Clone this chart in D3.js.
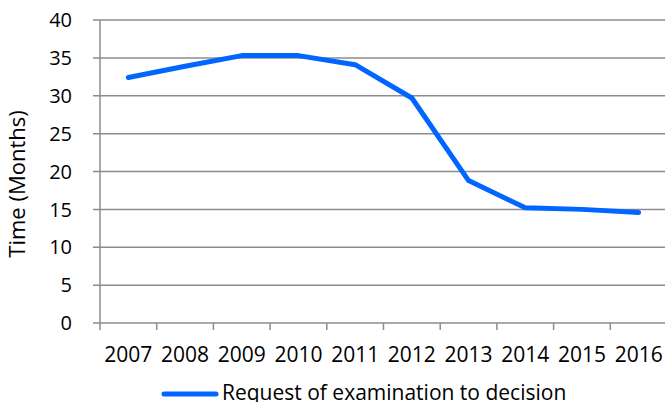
<!DOCTYPE html>
<html><head><meta charset="utf-8">
<script src="https://cdn.jsdelivr.net/npm/d3@7"></script>
<style>body{margin:0;background:#fff}svg{display:block}text{font-family:"Open Sans",sans-serif;fill:#000}</style>
</head><body>
<script>
const years = ["2007","2008","2009","2010","2011","2012","2013","2014","2015","2016"];
const months = [32.4, 33.9, 35.3, 35.3, 34.1, 29.7, 18.8, 15.2, 15.0, 14.6];
const yTicks = [0,5,10,15,20,25,30,35,40];
const seriesName = "Request of examination to decision";
const yLabel = "Time (Months)";

const W = 665, H = 402;
const svg = d3.select("body").append("svg").attr("width", W).attr("height", H);
const x = d3.scaleBand().domain(years).range([100, 667]);
const y = d3.scaleLinear().domain([0, 40]).range([323, 20]);

// grid
svg.append("g").selectAll("line").data(yTicks).join("line")
  .attr("x1", 93).attr("x2", 667).attr("y1", d => y(d)).attr("y2", d => y(d))
  .attr("stroke", "#8c8c8c").attr("stroke-width", 1.5);
// y axis line
svg.append("line").attr("x1", 100).attr("x2", 100).attr("y1", y(40)).attr("y2", 330)
  .attr("stroke", "#8c8c8c").attr("stroke-width", 1.5);
// x ticks
const xt = years.map(d => x(d)).concat([x(years[years.length-1]) + x.bandwidth()]);
svg.append("g").selectAll("line").data(xt.slice(1)).join("line")
  .attr("x1", d=>d).attr("x2", d=>d).attr("y1", 323).attr("y2", 330)
  .attr("stroke", "#8c8c8c").attr("stroke-width", 1.5);

// y labels
svg.append("g").selectAll("text").data(yTicks).join("text")
  .attr("x", 72).attr("y", d => y(d)).attr("dy", "0.36em").attr("text-anchor", "end")
  .attr("font-size", 20).text(d => d);
// x labels
svg.append("g").selectAll("text").data(years).join("text")
  .attr("x", d => x(d) + x.bandwidth()/2).attr("y", 362).attr("text-anchor", "middle")
  .attr("font-size", 21).text(d => d);
// y title
svg.append("text").attr("transform", "translate(25,184) rotate(-90)").attr("text-anchor", "middle")
  .attr("font-size", 22).text(yLabel);

// line
const line = d3.line().x((d,i) => x(years[i]) + x.bandwidth()/2).y(d => y(d));
svg.append("path").datum(months).attr("d", line).attr("fill", "none")
  .attr("stroke", "#0066ff").attr("stroke-width", 5).attr("stroke-linecap", "round").attr("stroke-linejoin", "round");

// legend
svg.append("line").attr("x1", 164).attr("x2", 216).attr("y1", 394).attr("y2", 394)
  .attr("stroke", "#0066ff").attr("stroke-width", 5).attr("stroke-linecap", "round");
svg.append("text").attr("x", 222).attr("y", 400).attr("font-size", 21).text(seriesName);
</script>
</body></html>
